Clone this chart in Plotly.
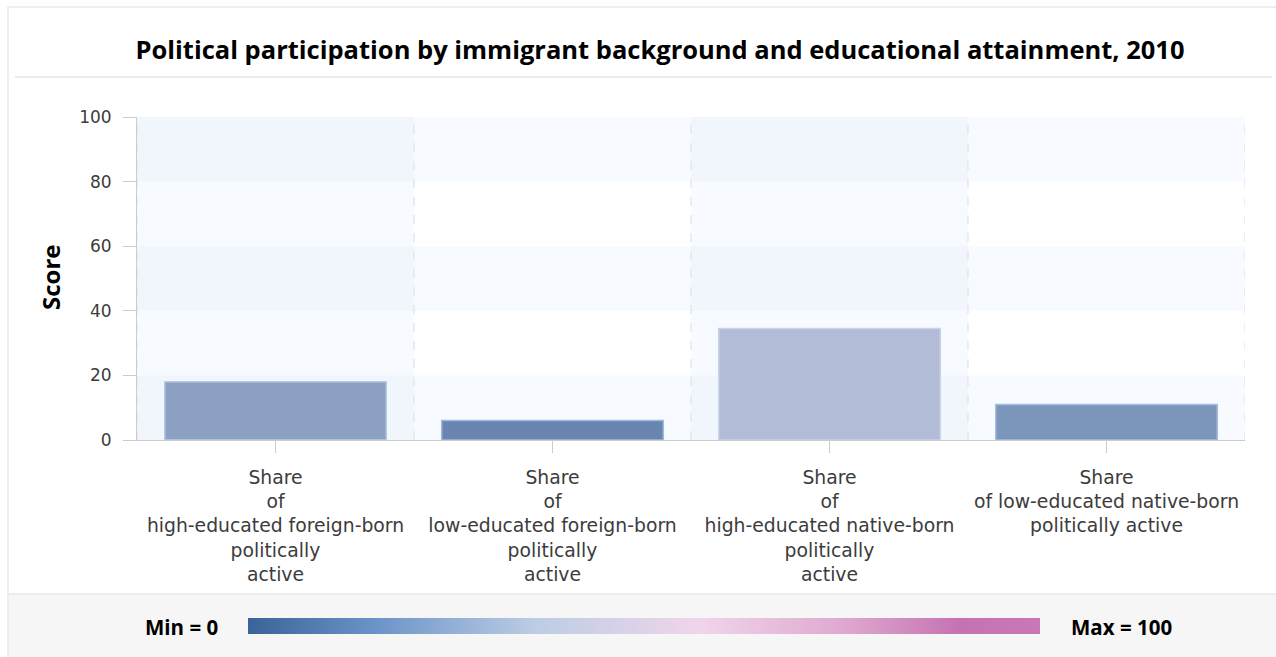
import plotly.graph_objects as go

categories = [
    "Share<br>of<br>high-educated foreign-born<br>politically<br>active",
    "Share<br>of<br>low-educated foreign-born<br>politically<br>active",
    "Share<br>of<br>high-educated native-born<br>politically<br>active",
    "Share<br>of low-educated native-born<br>politically active",
]
values = [18, 6, 34.5, 11]
bar_colors = ["#8ca1c2", "#6986b0", "#b2bcd7", "#7c95ba"]
bar_edges = ["#b7cbe6", "#9fb8dc", "#c9d4ea", "#a9bedf"]
y_ticks = [0, 20, 40, 60, 80, 100]
colorscale = [
    [0.0, "#3a6399"], [0.16, "#6b93c8"], [0.365, "#bdcde4"],
    [0.57, "#f0d5ea"], [0.75, "#dfa9cf"], [0.9, "#c572b2"], [1.0, "#c978b6"],
]

W, H = 1276, 657
L, R, T, B = 137, 1245, 117, 440


def px(xp):
    return (xp - L) / (R - L)


def py(yp):
    return (B - yp) / (B - T)


fig = go.Figure()
fig.add_trace(go.Bar(
    x=list(range(len(categories))), y=values, width=0.8,
    marker=dict(color=bar_colors, line=dict(color=bar_edges, width=1.5)),
    hoverinfo="y", showlegend=False,
))
# colour legend as a horizontal colorbar
fig.add_trace(go.Scatter(
    x=[None], y=[None], mode="markers", showlegend=False,
    marker=dict(color=[0, 100], cmin=0, cmax=100, colorscale=colorscale, showscale=True,
                colorbar=dict(orientation="h", x=px(644), xanchor="center", xref="paper",
                              y=py(626), yanchor="middle", yref="paper",
                              len=792, lenmode="pixels", thickness=16, outlinewidth=0,
                              xpad=0, ypad=0,
                              showticklabels=False, ticks="")),
))

shapes = []
# bottom grey panel
shapes.append(dict(type="rect", xref="paper", yref="paper", x0=px(9), x1=px(1280), y0=py(660), y1=py(594),
                   fillcolor="#f6f6f6", line=dict(width=0), layer="below"))
shapes.append(dict(type="line", xref="paper", yref="paper", x0=px(9), x1=px(1280), y0=py(594), y1=py(594),
                   line=dict(color="#ececec", width=2)))
# outer frame
shapes.append(dict(type="line", xref="paper", yref="paper", x0=px(8), x1=px(1280), y0=py(7), y1=py(7),
                   line=dict(color="#eeeeee", width=2)))
shapes.append(dict(type="line", xref="paper", yref="paper", x0=px(8), x1=px(8), y0=py(6), y1=py(660),
                   line=dict(color="#eeeeee", width=2)))
# title separator
shapes.append(dict(type="line", xref="paper", yref="paper", x0=px(15), x1=px(1272), y0=py(77), y1=py(77),
                   line=dict(color="#ececec", width=2)))
# background bands
for y0 in [0, 40, 80]:
    shapes.append(dict(type="rect", xref="x", yref="y", x0=-0.5, x1=3.5, y0=y0, y1=y0 + 20,
                       fillcolor="rgba(225,235,252,0.25)", line=dict(width=0), layer="below"))
for c in [0, 2]:
    shapes.append(dict(type="rect", xref="x", yref="y", x0=c - 0.5, x1=c + 0.5, y0=0, y1=100,
                       fillcolor="rgba(225,235,252,0.25)", line=dict(width=0), layer="below"))
# dashed vertical separators
for xb in [-0.5, 0.5, 1.5, 2.5, 3.5]:
    shapes.append(dict(type="line", xref="x", yref="y", x0=xb, x1=xb, y0=0, y1=100,
                       line=dict(color="#dddddd", width=1, dash="dash"), layer="below"))

fig.update_layout(
    width=W, height=H,
    margin=dict(l=L, r=W - R, t=T, b=H - B),
    paper_bgcolor="white", plot_bgcolor="white",
    title=dict(text="<b>Political participation by immigrant background and educational attainment, 2010</b>",
               x=px(660), xanchor="center", y=1 - 50 / H, yanchor="middle", xref="paper",
               font=dict(family="Open Sans", size=25.5, color="#000000")),
    shapes=shapes,
    xaxis=dict(tickmode="array", tickvals=list(range(len(categories))), ticktext=categories,
               range=[-0.5, 3.5], showgrid=False, zeroline=False, showline=True, linecolor="#cccccc",
               ticks="outside", ticklen=12, tickcolor="#cccccc", ticklabelstandoff=8,
               tickfont=dict(family="DejaVu Sans", size=18.8, color="#3c3c3c"), tickangle=0),
    yaxis=dict(range=[0, 100], tickvals=y_ticks, showgrid=False, zeroline=False, showline=True,
               linecolor="#cccccc", ticks="outside", ticklen=13, tickcolor="#cccccc",
               ticklabelstandoff=8,
               tickfont=dict(family="DejaVu Sans", size=17, color="#3c3c3c")),
    annotations=[
        dict(text="<b>Score</b>", xref="paper", yref="paper", x=px(50), y=py(277), showarrow=False,
             textangle=-90, xanchor="center", yanchor="middle",
             font=dict(family="Open Sans", size=24, color="#000000")),
        dict(text="<b>Min = 0</b>", xref="paper", yref="paper", x=px(181.5), y=py(627), showarrow=False,
             xanchor="center", yanchor="middle", font=dict(family="Open Sans", size=20.5, color="#000000")),
        dict(text="<b>Max = 100</b>", xref="paper", yref="paper", x=px(1121), y=py(627), showarrow=False,
             xanchor="center", yanchor="middle", font=dict(family="Open Sans", size=20.5, color="#000000")),
    ],
    bargap=0.2,
)

fig.write_html("out.html")
